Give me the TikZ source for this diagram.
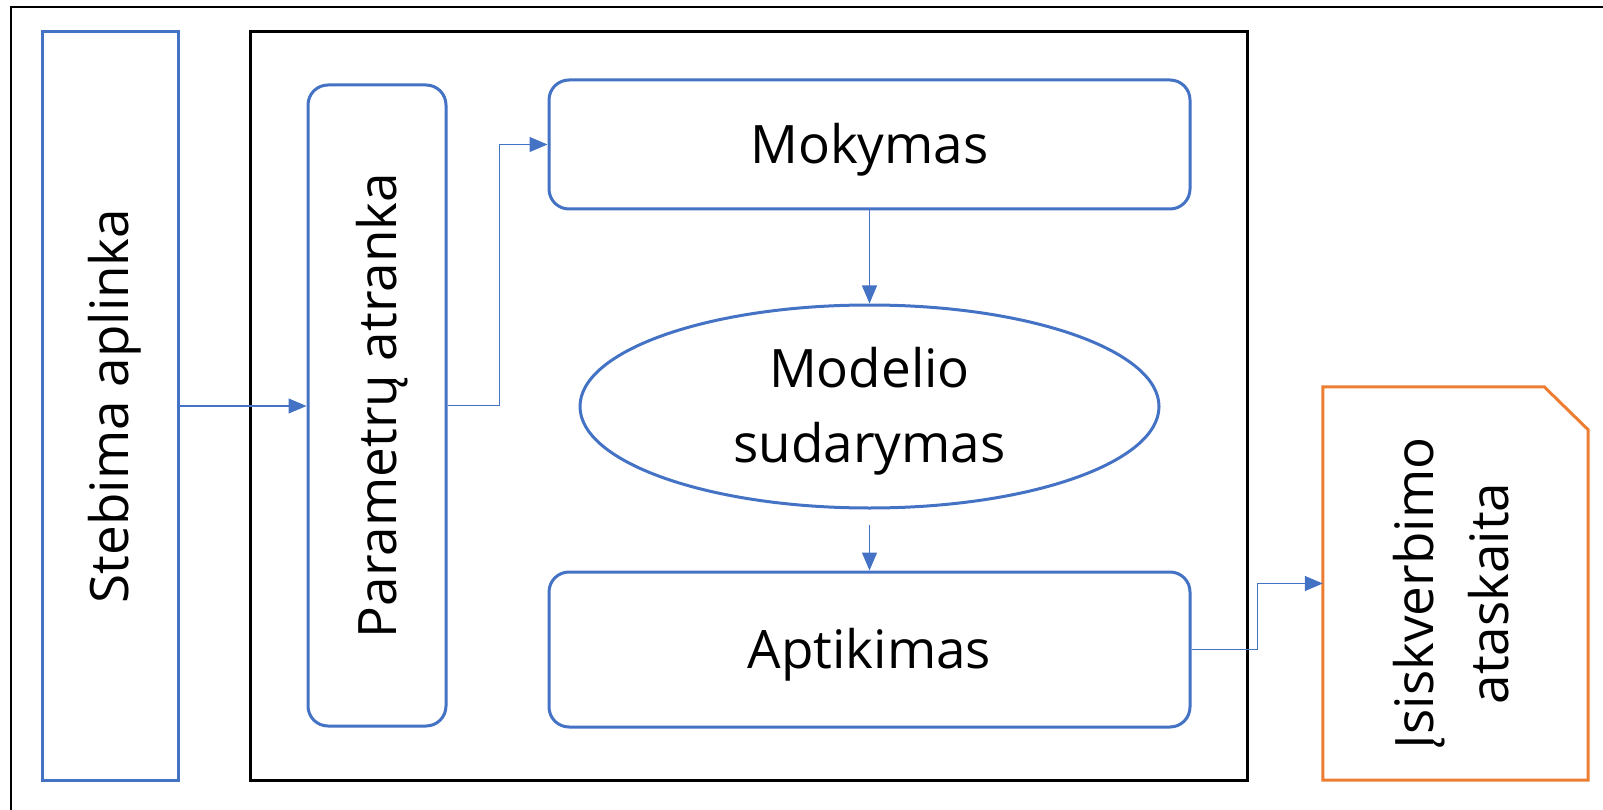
\documentclass[tikz,border=0pt]{standalone}
\usepackage{fontspec}
\setmainfont{Open Sans}
\usetikzlibrary{arrows.meta,shapes.geometric}
\definecolor{bl}{HTML}{4472C4}
\definecolor{orng}{HTML}{ED7D31}
\begin{document}
\begin{tikzpicture}[x=1pt,y=-1pt,
  every node/.style={font=\fontsize{53}{75}\selectfont, inner sep=0pt, align=center},
  plainbox/.style={draw=bl, line width=3pt},
  rbox/.style={draw=bl, line width=3pt, rounded corners=20pt},
  conn/.style={draw=bl, line width=1.2pt, -{Triangle[length=18pt,width=15pt]}}]
\useasboundingbox (0,0) rectangle (1603,810);
\draw[black, line width=1.5pt] (11,810) -- (11,7) -- (1603,7);
\node[plainbox, minimum width=136pt, minimum height=748pt] (steb) at (110,406) {};
\node[rotate=90] at ([xshift=5pt]steb.center) {Stebima aplinka};
\node[draw=black, line width=3pt, minimum width=997pt, minimum height=748pt] (sys) at (748.5,406) {};
\node[rbox, minimum width=138pt, minimum height=641pt] (param) at (377,405.5) {};
\node[rotate=90] at ([xshift=5pt]param.center) {Parametrų atranka};
\node[rbox, minimum width=641pt, minimum height=129pt] (mok) at (869.5,144.5) {};
\node at ([yshift=-5pt]mok.center) {Mokymas};
\node[ellipse, draw=bl, line width=3pt, minimum width=579pt, minimum height=203pt] (ell) at (869.5,406.5) {};
\node at ([yshift=-5pt]ell.center) {Modelio\\sudarymas};
\node[rbox, minimum width=641pt, minimum height=155pt] (apt) at (869.5,649.5) {};
\node at ([yshift=-5pt]apt.center) {Aptikimas};
\node[minimum width=265pt, minimum height=393pt] (rep) at (1455.5,583.5) {};
\draw[orng, line width=3pt] (rep.north west) -- ([xshift=-44pt]rep.north east) -- ([yshift=-43pt]rep.north east) -- (rep.south east) -- (rep.south west) -- cycle;
\node[rotate=90] at ([xshift=-4pt,yshift=-10pt]rep.center) {Įsiskverbimo\\ataskaita};
\draw[conn] (steb.east) -- (steb.east -| param.west);
\draw[conn] (param.east) -- ++(52,0) |- (mok.west);
\draw[conn] (mok.south) -- (ell.north);
\draw[conn] ([yshift=-15pt]ell.south) -- (apt.north);
\draw[conn] (apt.east) -- ++(66,0) |- (rep.west);
\end{tikzpicture}
\end{document}
